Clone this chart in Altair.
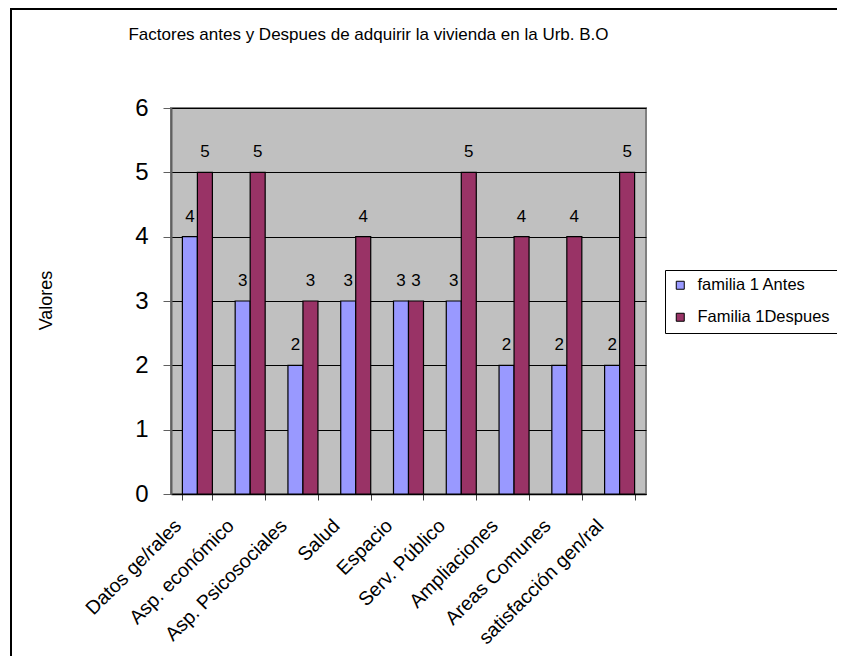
import altair as alt
import pandas as pd

categories = ["Datos ge/rales", "Asp. económico", "Asp. Psicosociales", "Salud", "Espacio",
              "Serv. Público", "Ampliaciones", "Areas Comunes", "satisfacción gen/ral"]
antes = [4, 3, 2, 3, 3, 3, 2, 2, 2]
despues = [5, 5, 3, 4, 3, 5, 4, 4, 5]
series_names = ["familia 1 Antes", "Familia 1Despues"]
series_colors = ["#9999FF", "#993366"]
title_text = "Factores antes y Despues de adquirir la vivienda en la Urb. B.O"
y_title = "Valores"
y_ticks = [0, 1, 2, 3, 4, 5, 6]

rows = []
for c, a, d in zip(categories, antes, despues):
    rows.append({"cat": c, "serie": series_names[0], "valor": a})
    rows.append({"cat": c, "serie": series_names[1], "valor": d})
df = pd.DataFrame(rows)

FONT = "Liberation Sans"
W, H = 475, 386

x_enc = alt.X(
    "cat:N", sort=categories, title=None,
    scale=alt.Scale(paddingInner=0.4316, paddingOuter=0.2158),
    axis=alt.Axis(labelAngle=-45, labelAlign="right", labelBaseline="top",
                  labelFontSize=19.5, labelFont=FONT, labelColor="black",
                  labelOffset=-26, labelPadding=16, tickBand="extent",
                  tickSize=6, tickColor="#404040", domainColor="#000000",
                  domainWidth=1.5, labelLimit=400),
)
xo_enc = alt.XOffset("serie:N", sort=series_names,
                     scale=alt.Scale(domain=series_names, paddingInner=0, paddingOuter=0))
y_enc = alt.Y(
    "valor:Q",
    scale=alt.Scale(domain=[0, 6], nice=False),
    axis=alt.Axis(values=y_ticks, format="d", title=y_title, titleFont=FONT, titleFontSize=18,
                  titleFontWeight="normal", titleColor="black",
                  titleX=-125, titleY=192, titleAngle=270, titleAlign="center",
                  titleBaseline="middle",
                  labelFontSize=24, labelFont=FONT, labelColor="black",
                  labelPadding=15, tickSize=8, tickColor="#606060",
                  domainColor="#606060", domainWidth=2,
                  grid=True, gridColor="#000000", gridWidth=1, gridOpacity=1),
)

bars = alt.Chart(df).mark_bar(stroke="black", strokeWidth=1.2).encode(
    x=x_enc,
    xOffset=xo_enc,
    y=y_enc,
    color=alt.Color(
        "serie:N",
        scale=alt.Scale(domain=series_names, range=series_colors),
        legend=alt.Legend(orient="none", legendX=494, legendY=162, title=None,
                          labelFontSize=16.5, labelFont=FONT, labelColor="black",
                          symbolType="square", symbolSize=64,
                          symbolStrokeColor="black", symbolStrokeWidth=1,
                          strokeColor="black", fillColor="white", padding=7,
                          rowPadding=15, labelOffset=9, labelLimit=300),
    ),
)

labels = alt.Chart(df).mark_text(dy=-15, baseline="alphabetic", fontSize=17,
                                 font=FONT, color="black").encode(
    x=alt.X("cat:N", sort=categories),
    xOffset=alt.XOffset("serie:N", sort=series_names),
    y=alt.Y("valor:Q"),
    text=alt.Text("valor:Q"),
)

frame_data = alt.Data(values=[{"k": 1}])
frame_left = alt.Chart(frame_data).mark_rule(color="black", strokeWidth=2).encode(
    x=alt.value(-160), y=alt.value(-99), y2=alt.value(600)
)
frame_top = alt.Chart(frame_data).mark_rule(color="black", strokeWidth=2).encode(
    x=alt.value(-161), x2=alt.value(700), y=alt.value(-99)
)

chart = alt.layer(frame_left, frame_top, bars, labels).properties(
    width=W, height=H,
    autosize=alt.AutoSizeParams(type="none"),
    padding={"left": 163, "top": 100, "right": 191, "bottom": 162},
    background="white",
    title=alt.TitleParams(text=title_text, font=FONT, fontSize=17, fontWeight="normal",
                          color="black", anchor="middle", frame="group",
                          offset=-36, dx=-40),
).configure_view(
    fill="#C0C0C0", stroke="#808080", strokeWidth=2
)

chart.save("out.html", embed_options={"renderer": "svg", "actions": False})
